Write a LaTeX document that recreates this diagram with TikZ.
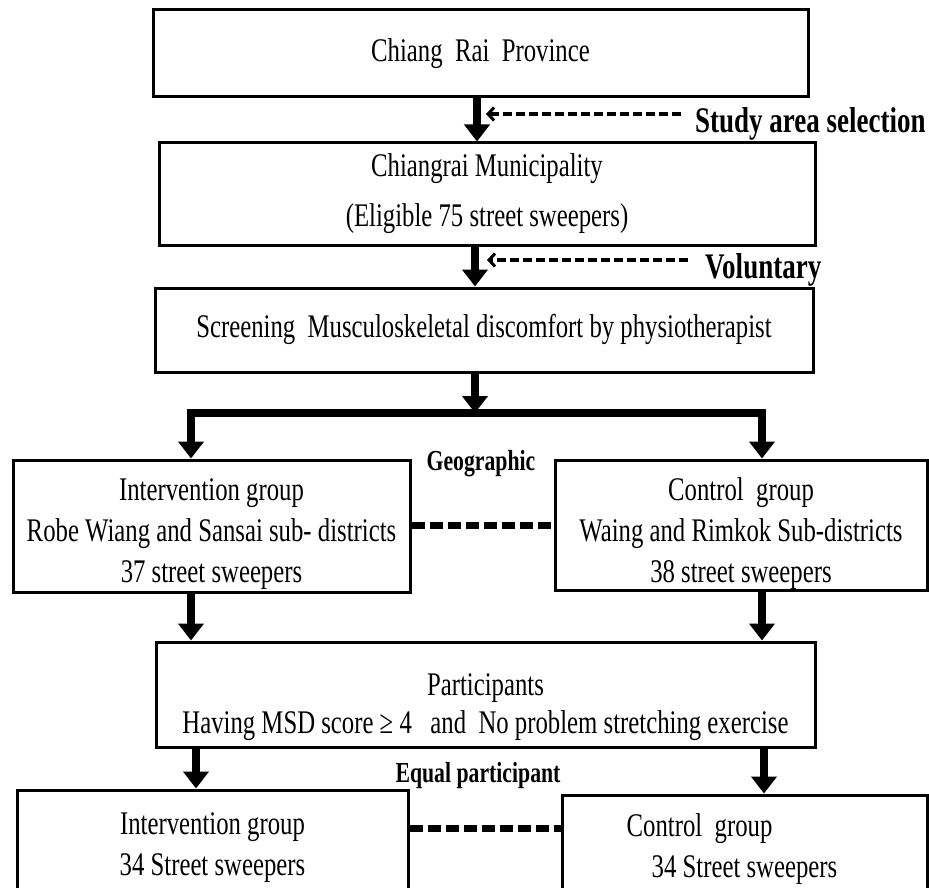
\documentclass[tikz,border=0pt]{standalone}
\usepackage{fontspec}
\setmainfont[FakeStretch=0.75]{Liberation Serif}
\usetikzlibrary{arrows.meta}
\begin{document}
\begin{tikzpicture}[x=1pt,y=-1pt,
  box/.style={draw, line width=3pt, inner sep=0pt},
  boxtext/.style={inner sep=0pt, align=center, font=\fontsize{33}{41}\selectfont},
  fatarrow/.style={line width=8pt, -{Triangle[width=25pt,length=17pt]}},
  fatline/.style={line width=8pt, line cap=rect},
  notearrow/.style={line width=3.2pt, dash pattern=on 9pt off 4pt,
    -{Straight Barb[length=6pt,width=13pt,line width=3pt]}},
  bondline/.style={line width=7pt, dash pattern=on 13pt off 5pt},
  labbig/.style={font=\fontsize{36}{42}\selectfont\bfseries, inner sep=0pt, anchor=base west},
  labsmall/.style={font=\fontsize{29}{34}\selectfont\bfseries, inner sep=0pt, anchor=base}
]
\fill[white] (0,0) rectangle (929,888);
\clip (0,0) rectangle (929,888);

% boxes
\node[box, minimum width=655pt, minimum height=87pt] (prov) at (480.5,53.5) {};
\node[box, minimum width=656pt, minimum height=102pt] (muni) at (487,194) {};
\node[box, minimum width=658pt, minimum height=84pt] (scr) at (484,330) {};
\node[box, minimum width=397pt, minimum height=132pt] (intA) at (211.5,526) {};
\node[box, minimum width=372pt, minimum height=130pt] (ctlA) at (741,525) {};
\node[box, minimum width=659pt, minimum height=105pt] (part) at (485.5,694.5) {};
\node[box, minimum width=391pt, minimum height=112pt] (intB) at (212.5,846) {};
\node[box, minimum width=365pt, minimum height=104pt] (ctlB) at (744.5,847) {};

% box texts
\node[boxtext] (provt) at (prov.center) {Chiang\ \ Rai\ \ Province};
\node[boxtext] (munit) at (muni.center)
  {Chiangrai Municipality\\[9pt](Eligible 75 street sweepers)};
\node[boxtext] (scrt) at ([yshift=1pt]scr.center)
  {Screening\ \ Musculoskeletal discomfort by physiotherapist};
\node[boxtext] (intAt) at ([yshift=-8pt]intA.center)
  {Intervention group\\Robe Wiang and Sansai sub- districts\\37 street sweepers};
\node[boxtext] (ctlAt) at ([yshift=-9pt]ctlA.center)
  {Control\ \ group\\Waing and Rimkok Sub-districts\\38 street sweepers};
\node[boxtext] (partt) at ([yshift=-13pt]part.center)
  {Participants\\[-3pt]Having MSD score ≥ 4\ \ \ and\ \ No problem stretching exercise};
\node[boxtext] (intBt) at ([yshift=-2pt]intB.center)
  {Intervention group\\34 Street sweepers};
\node[boxtext] (ctlBt) at ([yshift=-2pt]ctlB.center)
  {Control\ \ group\hspace*{90pt}\\34 Street sweepers};

% side labels
\node[labbig] (sel) at (695,132) {Study area selection};
\node[labbig] (vol) at (705,278) {Voluntary};
\node[labsmall] (geo) at (481,470) {Geographic};
\node[labsmall] (eq) at (478,782) {Equal participant};

% arrow columns
\coordinate (x1) at (477,0);
\coordinate (x2) at (475,0);
\coordinate (x3) at (475,0);
\coordinate (bl) at (191,413);
\coordinate (br) at (762,413);
\coordinate (x4) at (191,0);
\coordinate (x5) at (762,0);
\coordinate (x6) at (196,0);
\coordinate (x7) at (764,0);
\coordinate (d1) at (681,114);
\coordinate (d2) at (688,260);

% main flow
\draw[fatarrow] (prov.south -| x1) -- (muni.north -| x1);
\draw[fatarrow] (muni.south -| x2) -- (scr.north -| x2);
\draw[fatarrow] (scr.south -| x3) -- (x3 |- bl);
\draw[fatline] (bl) -- (br);
\draw[fatarrow] (bl) -- (intA.north -| bl);
\draw[fatarrow] (br) -- (ctlA.north -| br);
\draw[fatarrow] (intA.south -| x4) -- (part.north -| x4);
\draw[fatarrow] (ctlA.south -| x5) -- (part.north -| x5);
\draw[fatarrow] (part.south -| x6) -- (intB.north -| x6);
\draw[fatarrow] (part.south -| x7) -- (ctlB.north -| x7);

% selection notes
\draw[notearrow, shorten >=9pt] (d1) -- (d1 -| x1);
\draw[notearrow, shorten >=12pt] (d2) -- (d2 -| x2);

% group pairing
\draw[bondline] (intA.east |- 0,525) -- (ctlA.west |- 0,525);
\draw[bondline] (intB.east |- 0,828) -- (ctlB.west |- 0,828);
\end{tikzpicture}
\end{document}
